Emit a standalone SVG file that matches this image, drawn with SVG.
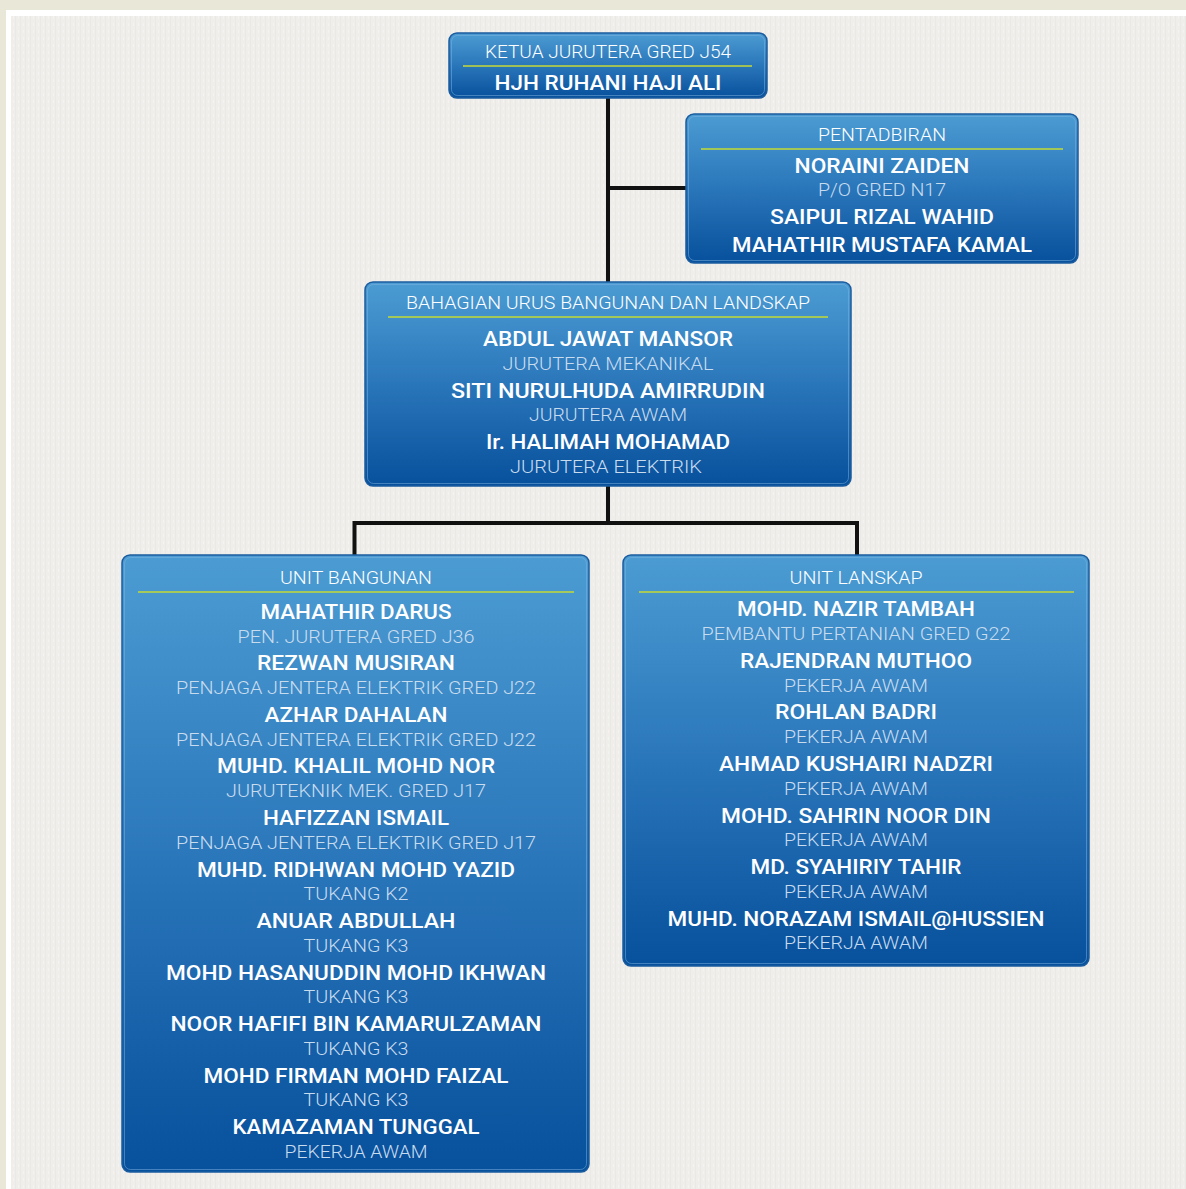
<svg xmlns="http://www.w3.org/2000/svg" width="1186" height="1189" viewBox="0 0 1186 1189">
<defs>
<linearGradient id="bg" x1="0" y1="0" x2="0" y2="1">
<stop offset="0" stop-color="#4c9cd3"/>
<stop offset="0.5" stop-color="#2a76ba"/>
<stop offset="1" stop-color="#07509c"/>
</linearGradient>
<pattern id="tex" width="5" height="7" patternUnits="userSpaceOnUse">
<rect width="5" height="7" fill="#efeeeb"/>
<rect x="0" y="0" width="1" height="7" fill="#eae9e5"/>
<rect x="3" y="2" width="1" height="3" fill="#f4f3f1"/>
</pattern>
</defs>
<style>
.box{fill:url(#bg);stroke:#1b5c9e;stroke-width:1.5}
.inner{fill:none;stroke:#7fb3e0;stroke-opacity:0.5;stroke-width:1}
.rule{stroke:#c6da34;stroke-width:1.5}
.conn{stroke:#111;stroke-width:4;fill:none}
text{font-family:Roboto,"Liberation Sans",sans-serif;text-anchor:middle;fill:#fff}
.t{font-size:19px;font-weight:300}
.n{font-size:21px;font-weight:500}
.s{font-size:18px;font-weight:300;fill:#c9dcee}
</style>
<rect width="1186" height="1189" fill="#e9e7d8"/>
<rect x="6" y="10" width="1180" height="1179" fill="#ffffff"/>
<rect x="11" y="16" width="1175" height="1173" fill="url(#tex)"/>

<g id="connectors">
<path class="conn" d="M608 98 V282 M608 188 H686 M608 486 V523 M354.5 523 H857 M354.5 521 V556 M857 521 V556"/>
</g>

<g id="node-ketua">
<rect class="box" x="449" y="33" width="318" height="65" rx="8"/>
<rect class="inner" x="451.5" y="35.5" width="313" height="60" rx="6"/>
<text class="t" x="608" y="58" textLength="246" lengthAdjust="spacingAndGlyphs">KETUA JURUTERA GRED J54</text>
<line class="rule" x1="463" y1="66" x2="752" y2="66"/>
<text class="n" x="608" y="90" textLength="227" lengthAdjust="spacingAndGlyphs">HJH RUHANI HAJI ALI</text>
</g>

<g id="node-pentadbiran">
<rect class="box" x="686" y="114" width="392" height="149" rx="8"/>
<rect class="inner" x="688.5" y="116.5" width="387" height="144" rx="6"/>
<text class="t" x="882" y="141" textLength="128" lengthAdjust="spacingAndGlyphs">PENTADBIRAN</text>
<line class="rule" x1="701" y1="149" x2="1063" y2="149"/>
<text class="n" x="882" y="173" textLength="175" lengthAdjust="spacingAndGlyphs">NORAINI ZAIDEN</text>
<text class="s" x="882" y="196" textLength="128" lengthAdjust="spacingAndGlyphs">P/O GRED N17</text>
<text class="n" x="882" y="224" textLength="224" lengthAdjust="spacingAndGlyphs">SAIPUL RIZAL WAHID</text>
<text class="n" x="882" y="252" textLength="300" lengthAdjust="spacingAndGlyphs">MAHATHIR MUSTAFA KAMAL</text>
</g>

<g id="node-bahagian">
<rect class="box" x="365" y="282" width="486" height="204" rx="8"/>
<rect class="inner" x="367.5" y="284.5" width="481" height="199" rx="6"/>
<text class="t" x="608" y="309" textLength="404" lengthAdjust="spacingAndGlyphs">BAHAGIAN URUS BANGUNAN DAN LANDSKAP</text>
<line class="rule" x1="388" y1="317" x2="828" y2="317"/>
<text class="n" x="608" y="346" textLength="250" lengthAdjust="spacingAndGlyphs">ABDUL JAWAT MANSOR</text>
<text class="s" x="608" y="370" textLength="211" lengthAdjust="spacingAndGlyphs">JURUTERA MEKANIKAL</text>
<text class="n" x="608" y="398" textLength="314" lengthAdjust="spacingAndGlyphs">SITI NURULHUDA AMIRRUDIN</text>
<text class="s" x="608" y="421" textLength="158" lengthAdjust="spacingAndGlyphs">JURUTERA AWAM</text>
<text class="n" x="608" y="449" textLength="244" lengthAdjust="spacingAndGlyphs">Ir. HALIMAH MOHAMAD</text>
<text class="s" x="606" y="473" textLength="192" lengthAdjust="spacingAndGlyphs">JURUTERA ELEKTRIK</text>
</g>

<g id="node-bangunan">
<rect class="box" x="122" y="555" width="467" height="617" rx="8"/>
<rect class="inner" x="124.5" y="557.5" width="462" height="612" rx="6"/>
<text class="t" x="356" y="584" textLength="152" lengthAdjust="spacingAndGlyphs">UNIT BANGUNAN</text>
<line class="rule" x1="138" y1="592" x2="574" y2="592"/>
<text class="n" x="356" y="619" textLength="191" lengthAdjust="spacingAndGlyphs">MAHATHIR DARUS</text>
<text class="s" x="356" y="643" textLength="237" lengthAdjust="spacingAndGlyphs">PEN. JURUTERA GRED J36</text>
<text class="n" x="356" y="670" textLength="198" lengthAdjust="spacingAndGlyphs">REZWAN MUSIRAN</text>
<text class="s" x="356" y="694" textLength="360" lengthAdjust="spacingAndGlyphs">PENJAGA JENTERA ELEKTRIK GRED J22</text>
<text class="n" x="356" y="722" textLength="183" lengthAdjust="spacingAndGlyphs">AZHAR DAHALAN</text>
<text class="s" x="356" y="746" textLength="360" lengthAdjust="spacingAndGlyphs">PENJAGA JENTERA ELEKTRIK GRED J22</text>
<text class="n" x="356" y="773" textLength="278" lengthAdjust="spacingAndGlyphs">MUHD. KHALIL MOHD NOR</text>
<text class="s" x="356" y="797" textLength="260" lengthAdjust="spacingAndGlyphs">JURUTEKNIK MEK. GRED J17</text>
<text class="n" x="356" y="825" textLength="186" lengthAdjust="spacingAndGlyphs">HAFIZZAN ISMAIL</text>
<text class="s" x="356" y="849" textLength="360" lengthAdjust="spacingAndGlyphs">PENJAGA JENTERA ELEKTRIK GRED J17</text>
<text class="n" x="356" y="877" textLength="318" lengthAdjust="spacingAndGlyphs">MUHD. RIDHWAN MOHD YAZID</text>
<text class="s" x="356" y="900" textLength="105" lengthAdjust="spacingAndGlyphs">TUKANG K2</text>
<text class="n" x="356" y="928" textLength="199" lengthAdjust="spacingAndGlyphs">ANUAR ABDULLAH</text>
<text class="s" x="356" y="952" textLength="105" lengthAdjust="spacingAndGlyphs">TUKANG K3</text>
<text class="n" x="356" y="980" textLength="380" lengthAdjust="spacingAndGlyphs">MOHD HASANUDDIN MOHD IKHWAN</text>
<text class="s" x="356" y="1003" textLength="105" lengthAdjust="spacingAndGlyphs">TUKANG K3</text>
<text class="n" x="356" y="1031" textLength="371" lengthAdjust="spacingAndGlyphs">NOOR HAFIFI BIN KAMARULZAMAN</text>
<text class="s" x="356" y="1055" textLength="105" lengthAdjust="spacingAndGlyphs">TUKANG K3</text>
<text class="n" x="356" y="1083" textLength="305" lengthAdjust="spacingAndGlyphs">MOHD FIRMAN MOHD FAIZAL</text>
<text class="s" x="356" y="1106" textLength="105" lengthAdjust="spacingAndGlyphs">TUKANG K3</text>
<text class="n" x="356" y="1134" textLength="247" lengthAdjust="spacingAndGlyphs">KAMAZAMAN TUNGGAL</text>
<text class="s" x="356" y="1158" textLength="143" lengthAdjust="spacingAndGlyphs">PEKERJA AWAM</text>
</g>

<g id="node-lanskap">
<rect class="box" x="623" y="555" width="466" height="411" rx="8"/>
<rect class="inner" x="625.5" y="557.5" width="461" height="406" rx="6"/>
<text class="t" x="856" y="584" textLength="133" lengthAdjust="spacingAndGlyphs">UNIT LANSKAP</text>
<line class="rule" x1="639" y1="592" x2="1074" y2="592"/>
<text class="n" x="856" y="616" textLength="238" lengthAdjust="spacingAndGlyphs">MOHD. NAZIR TAMBAH</text>
<text class="s" x="856" y="640" textLength="309" lengthAdjust="spacingAndGlyphs">PEMBANTU PERTANIAN GRED G22</text>
<text class="n" x="856" y="668" textLength="232" lengthAdjust="spacingAndGlyphs">RAJENDRAN MUTHOO</text>
<text class="s" x="856" y="692" textLength="144" lengthAdjust="spacingAndGlyphs">PEKERJA AWAM</text>
<text class="n" x="856" y="719" textLength="162" lengthAdjust="spacingAndGlyphs">ROHLAN BADRI</text>
<text class="s" x="856" y="743" textLength="144" lengthAdjust="spacingAndGlyphs">PEKERJA AWAM</text>
<text class="n" x="856" y="771" textLength="274" lengthAdjust="spacingAndGlyphs">AHMAD KUSHAIRI NADZRI</text>
<text class="s" x="856" y="795" textLength="144" lengthAdjust="spacingAndGlyphs">PEKERJA AWAM</text>
<text class="n" x="856" y="823" textLength="270" lengthAdjust="spacingAndGlyphs">MOHD. SAHRIN NOOR DIN</text>
<text class="s" x="856" y="846" textLength="144" lengthAdjust="spacingAndGlyphs">PEKERJA AWAM</text>
<text class="n" x="856" y="874" textLength="211" lengthAdjust="spacingAndGlyphs">MD. SYAHIRIY TAHIR</text>
<text class="s" x="856" y="898" textLength="144" lengthAdjust="spacingAndGlyphs">PEKERJA AWAM</text>
<text class="n" x="856" y="926" textLength="377" lengthAdjust="spacingAndGlyphs">MUHD. NORAZAM ISMAIL@HUSSIEN</text>
<text class="s" x="856" y="949" textLength="144" lengthAdjust="spacingAndGlyphs">PEKERJA AWAM</text>
</g>
</svg>
